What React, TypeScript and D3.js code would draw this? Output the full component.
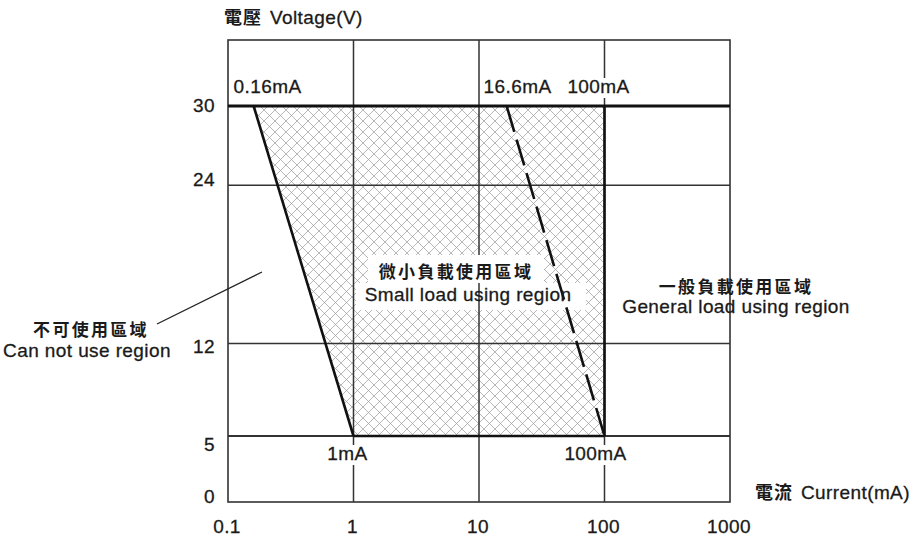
import React from 'react';
import * as d3 from 'd3';

// ---- data ----
const xTicks = [0.1, 1, 10, 100, 1000];
const xTickLabels = ['0.1', '1', '10', '100', '1000'];
const yTicks = [0, 5, 12, 24, 30];
const yTickLabels = ['0', '5', '12', '24', '30'];
const regionCurrent = [0.16, 100, 100, 1];
const regionVoltage = [30, 30, 5, 5];
const minBoundaryCurrent = [0.16, 1];
const minBoundaryVoltage = [30, 5];
const dashedCurrent = [16.6, 100];
const dashedVoltage = [30, 5];
const pointLabels = ['0.16mA', '16.6mA', '100mA', '1mA', '100mA'];
const pointLabelCurrent = [0.16, 16.6, 100, 1, 100];
const pointLabelVoltage = [30, 30, 30, 5, 5];

// ---- layout / style ----
const W = 918;
const H = 537;
const yTickNudge = [0.5, 15, 9, 1, 6];
const pointLabelDx = [-20, -23, -6, -6, -9];
const pointLabelDy = [-13, -13, -13, 24, 24];
const EN = '"Liberation Sans", Arial, Helvetica, sans-serif';
const CJK = '"Noto Sans CJK TC", "Noto Sans CJK SC", sans-serif';
const INK = '#1a1a1a';

export default function App() {
  const x = d3.scaleLog().domain([0.1, 1000]).range([228, 730]);
  const y = d3.scaleLinear().domain([0, 35]).range([502, 40]);
  const [x0, x1] = x.range();
  const [yb, yt] = y.range();

  const regionPts: [number, number][] = regionCurrent.map((c, i) => [x(c), y(regionVoltage[i])]);
  const line = d3.line<[number, number]>();
  const regionPath = line(regionPts) + 'Z';
  const minPath = line(minBoundaryCurrent.map((c, i) => [x(c), y(minBoundaryVoltage[i])] as [number, number]));
  const dashPath = line(dashedCurrent.map((c, i) => [x(c), y(dashedVoltage[i])] as [number, number]));

  const enText = {
    fontFamily: EN,
    fontSize: 19,
    letterSpacing: 0.4,
    fill: INK,
    stroke: INK,
    strokeWidth: 0.3,
  } as const;
  const cjkText = { fontFamily: CJK, fontSize: 17, fontWeight: 700, letterSpacing: 2.3, fill: INK } as const;

  return (
    <svg width={W} height={H} style={{ position: 'absolute', left: 0, top: 0, background: '#fff' }}>
      <defs>
        <pattern id="hatch" patternUnits="userSpaceOnUse" width={11} height={11}>
          <rect width={11} height={11} fill="#fff" />
          <path d="M0,0L11,11M11,0L0,11M-1,10L1,12M10,-1L12,1" stroke="#9a9a9a" strokeWidth={0.7} />
        </pattern>
      </defs>
      <rect width={W} height={H} fill="#fff" />

      {/* hatched region */}
      <path d={regionPath} fill="url(#hatch)" stroke="none" />

      {/* white box behind English small-load text */}
      <rect x={356} y={283} width={230} height={27} fill="#fff" />

      {/* frame */}
      <rect x={x0} y={yt} width={x1 - x0} height={yb - yt} fill="none" stroke="#333" strokeWidth={1.6} />

      {/* vertical grid */}
      {xTicks.slice(1, -1).map((t) => (
        <line key={'vx' + t} x1={x(t)} x2={x(t)} y1={yt} y2={yb} stroke="#333" strokeWidth={1.5} />
      ))}
      {/* horizontal grid */}
      {yTicks.slice(1).map((t) => (
        <line
          key={'hy' + t}
          x1={x0}
          x2={x1}
          y1={y(t)}
          y2={y(t)}
          stroke={t === 30 ? '#111' : '#333'}
          strokeWidth={t === 30 ? 3 : t === 5 ? 2 : 1.5}
        />
      ))}

      {/* white box behind Chinese small-load text */}
      <rect x={368} y={255} width={176} height={28} fill="#fff" />

      {/* boundaries */}
      <path d={minPath!} fill="none" stroke="#111" strokeWidth={2.6} />
      <line x1={x(100)} x2={x(100)} y1={y(30)} y2={y(5)} stroke="#111" strokeWidth={2.6} />
      <line x1={x(1)} x2={x(100)} y1={y(5)} y2={y(5)} stroke="#111" strokeWidth={2.6} />
      <path d={dashPath!} fill="none" stroke="#111" strokeWidth={2.6} strokeDasharray="27 8" />

      {/* point labels */}
      {pointLabels.map((lab, i) => {
        const px = x(pointLabelCurrent[i]) + pointLabelDx[i];
        const by = y(pointLabelVoltage[i]) + pointLabelDy[i];
        const anchor = i < 2 ? 'start' : 'middle';
        const w = lab.length * 10.6;
        const rx = anchor === 'start' ? px - 1 : px - w / 2;
        return (
          <g key={'pl' + i}>
            <rect x={rx} y={by - 15} width={w} height={20} fill="#fff" />
            <text x={px} y={by} textAnchor={anchor} {...enText}>
              {lab}
            </text>
          </g>
        );
      })}

      {/* y tick labels */}
      {yTicks.map((t, i) => (
        <text key={'yl' + t} x={215} y={y(t) + yTickNudge[i]} textAnchor="end" {...enText}>
          {yTickLabels[i]}
        </text>
      ))}
      {/* x tick labels */}
      {xTicks.map((t, i) => (
        <text key={'xl' + t} x={x(t) - 1} y={533} textAnchor="middle" {...enText}>
          {xTickLabels[i]}
        </text>
      ))}

      {/* axis titles */}
      <text x={224} y={24}>
        <tspan {...cjkText} fontSize={18} letterSpacing={1}>電壓</tspan>
        <tspan {...enText} dx={8}>Voltage(V)</tspan>
      </text>
      <text x={755} y={499}>
        <tspan {...cjkText} fontSize={18} letterSpacing={1}>電流</tspan>
        <tspan {...enText} dx={8}>Current(mA)</tspan>
      </text>

      {/* region annotations */}
      <text x={456} y={278} textAnchor="middle" {...cjkText}>微小負載使用區域</text>
      <text x={468} y={301} textAnchor="middle" {...enText}>Small load using region</text>

      <text x={736} y={293} textAnchor="middle" {...cjkText}>一般負載使用區域</text>
      <text x={736} y={313} textAnchor="middle" {...enText}>General load using region</text>

      <text x={91} y={336} textAnchor="middle" {...cjkText}>不可使用區域</text>
      <text x={87} y={357} textAnchor="middle" {...enText}>Can not use region</text>
      <line x1={157} y1={324} x2={262} y2={272} stroke="#222" strokeWidth={1.3} />
    </svg>
  );
}
